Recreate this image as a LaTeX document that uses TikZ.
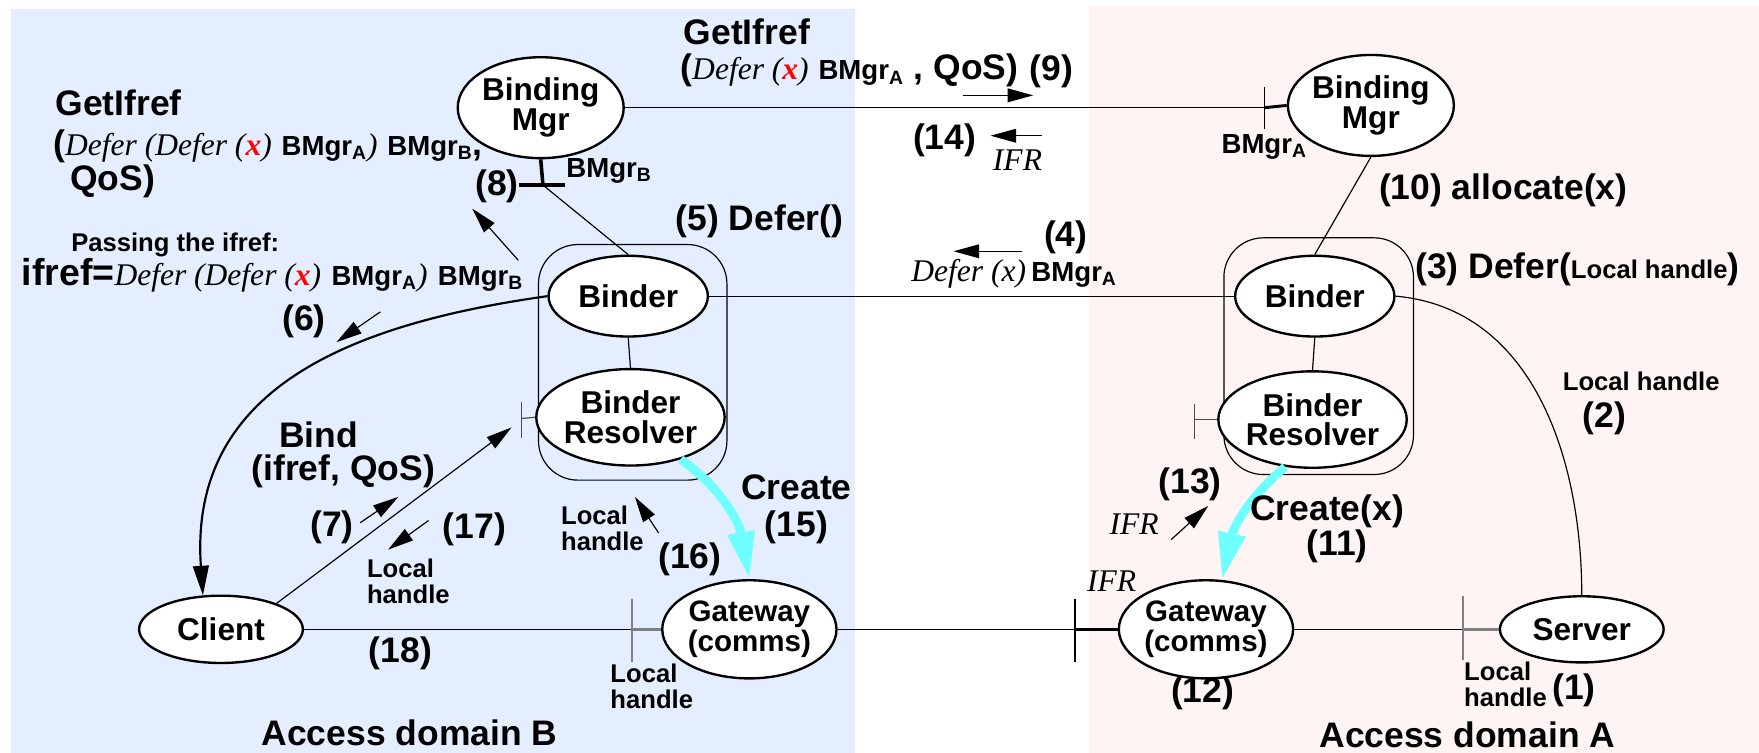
\documentclass[tikz,border=0pt]{standalone}
\usepackage{fontspec}
\setmainfont{Liberation Sans}
\newfontfamily\tms{Liberation Serif}
\usetikzlibrary{calc,shapes.geometric,arrows.meta}
\definecolor{domB}{HTML}{E4EEFF}
\definecolor{domA}{HTML}{FFF4F4}
\definecolor{crt}{HTML}{70FFFF}
\newcommand{\tm}[1]{{\tms\mdseries\itshape\fontsize{16}{16}\selectfont #1}}
\newcommand{\xr}{{\bfseries\color{red}x}}
\newcommand{\bmg}[1]{{\fontsize{14}{14}\selectfont BMgr\textsubscript{#1}}}
\tikzset{
  proc/.style={draw, ellipse, fill=white, line width=1.2pt, inner sep=0pt, align=center,
    font=\fontsize{16}{15}\selectfont\bfseries},
  big/.style={font=\fontsize{18}{18}\selectfont\bfseries, inner sep=0pt, align=center},
  small/.style={font=\fontsize{13}{13}\selectfont\bfseries, inner sep=0pt, align=left},
  msg/.style={-{Triangle[length=13pt,width=7pt]}, line width=0.6pt},
  stub/.style={line width=1.8pt},
  crtarrow/.style={crt, line width=4.5pt, -{Triangle[length=24pt,width=13pt]}}
}

\begin{document}
\begin{tikzpicture}[x=0.02cm, y=-0.02cm, line width=0.6pt]
			%%%%% START %%%%%
			\useasboundingbox (0,0) rectangle (1568,671);
			\fill[domB] (10,8) rectangle (762,671);
			\fill[domA] (971,5) rectangle (1568,671);
			
			\draw[rounded corners=20pt] (480,218) rectangle (648,428);
			\draw[rounded corners=20pt] (1091,212) rectangle (1260,423);
			
			\node[proc, minimum width=2.8cm, minimum height=1.8cm] (bmB) at (482,96) {Binding\\Mgr};
			\node[proc, minimum width=2.8cm, minimum height=1.8cm] (bmA) at (1222,94) {Binding\\Mgr};
			\node[proc, minimum width=2.84cm, minimum height=1.44cm] (bdB) at (560,264) {Binder};
			\node[proc, minimum width=2.84cm, minimum height=1.44cm] (bdA) at (1172,264) {Binder};
			\node[proc, minimum width=2.92cm, minimum height=1.72cm] (rsB) at (562,372) {Binder\\Resolver};
			\node[proc, minimum width=2.92cm, minimum height=1.72cm] (rsA) at (1170,374) {Binder\\Resolver};
			\node[proc, minimum width=2.92cm, minimum height=1.2cm] (cl) at (197,561) {Client};
			\node[proc, minimum width=3cm, minimum height=1.75cm, font=\fontsize{15}{13}\selectfont\bfseries] (gwB) at (668,561) {Gateway\\(comms)};
			\node[proc, minimum width=3cm, minimum height=1.75cm, font=\fontsize{15}{13}\selectfont\bfseries] (gwA) at (1075,561) {Gateway\\(comms)};
			\node[proc, minimum width=2.92cm, minimum height=1.18cm] (sv) at (1410,561) {Server};
			
			\coordinate (tbmB) at (484,165);
			\coordinate (tbmA) at (1127,96);
			\coordinate (trsB) at (465,373);
			\coordinate (trsA) at (1065,374);
			\coordinate (tgwB) at (563,561);
			\coordinate (tgwA) at (958,561);
			\coordinate (tsv) at (1304,561);
			\coordinate (bindIn) at (456,381);
			
			% interfaces
			\draw (bmB.east) -- (tbmA);
			\draw[line width=1.5pt] (tbmA) -- (bmA.west);
			\draw[line width=0.8pt] ($(tbmA)+(0,-18)$) -- ($(tbmA)+(0,19)$);
			\draw[stub] (bmB.south) -- (tbmB);
			\draw[stub] ($(tbmB)+(-21,0)$) -- ($(tbmB)+(20,0)$);
			\draw (tbmB) -- (bdB.north);
			\draw (bmA.south) -- (bdA.north);
			\draw (bdB.east) -- (bdA.west);
			\draw (bdB.south) -- (rsB.north);
			\draw (bdA.south) -- (rsA.north);
			\draw[black!70] (trsB) -- (rsB.west);
			\draw[black!70] ($(trsB)+(0,-15)$) -- ($(trsB)+(0,17)$);
			\draw[black!70] (trsA) -- (rsA.west);
			\draw[black!70] ($(trsA)+(0,-14)$) -- ($(trsA)+(0,17)$);
			\draw (cl.east) -- (tgwB);
			\draw[black!50, stub] (tgwB) -- (gwB.west);
			\draw[black!50, line width=1pt] ($(tgwB)+(0,-27)$) -- ($(tgwB)+(0,29)$);
			\draw (gwB.east) -- (tgwA);
			\draw[stub] (tgwA) -- (gwA.west);
			\draw[line width=1pt] ($(tgwA)+(0,-27)$) -- ($(tgwA)+(0,29)$);
			\draw (gwA.east) -- (tsv);
			\draw[black!50, stub] (tsv) -- (sv.west);
			\draw[black!50, line width=1pt] ($(tsv)+(0,-30)$) -- ($(tsv)+(0,27)$);
			
			\draw[line width=1.1pt, -{Triangle[length=15pt,width=8pt]}] (bdB.west) to[out=188, in=94, looseness=1.15] (cl.118);
			\draw (bdA.east) to[out=-5, in=90] (sv.north);
			\draw[msg] (cl.25) -- (bindIn);
			\draw[crtarrow] (rsB.-40) to[out=-35, in=100] (gwB.north);
			\draw[crtarrow] (rsA.-120) to[out=220, in=78] (gwA.72);
			
			% message arrows
			\draw[msg] (858,85) -- (921,85);
			\draw[msg] (929,121) -- (883,121);
			\draw[msg] (911,224) -- (850,224);
			\draw[msg] (462,232) -- (421,186);
			\draw[msg] (339,278) -- (300,305);
			\draw[msg] (321,466) -- (355,443);
			\draw[msg] (382,464) -- (346,490);
			\draw[msg] (587,475) -- (566,443);
			\draw[msg] (1044,481) -- (1077,451);
			
			% labels
			\node[big, anchor=west] (gi1) at (49,92) {GetIfref};
			\node[big, anchor=west] (gi2) at (47,130) {(\tm{Defer (Defer (\xr)} \bmg{A}\tm{)} \bmg{B},};
			\node[big, anchor=west] (gi3) at (62,162) {QoS)};
			\node[small, anchor=west] (pa1) at (63,218) {Passing the ifref:};
			\node[big, anchor=west] (pa2) at (19,245) {\fontsize{19}{19}\selectfont ifref=\tm{Defer (Defer (\xr)} \bmg{A}\tm{)} \bmg{B}};
			\node[big] (n8) at (443,166) {(8)};
			\node[small] (lbB) at (543,152) {\bmg{B}};
			\node[big, anchor=west] (gt1) at (609,28) {GetIfref};
			\node[big, anchor=west] (gt2) at (606,63) {(\tm{Defer (\xr)} \bmg{A} , QoS)};
			\node[big] (n9) at (937,64) {(9)};
			\node[big] (n14) at (842,125) {(14)};
			\node[font=\bfseries] (ifr14) at (907,143) {\tm{IFR}};
			\node[small] (lbA) at (1127,131) {\bmg{A}};
			\node[big] (n10) at (1340,170) {(10) allocate(x)};
			\node[big] (n5) at (677,197) {(5) Defer()};
			\node[big] (n4) at (950,212) {(4)};
			\node[font=\bfseries] (d4) at (904,244) {\tm{Defer (x)} \bmg{A}};
			\node[big, anchor=west] (n3) at (1261,240) {(3) Defer({\fontsize{13}{13}\selectfont Local handle})};
			\node[small] (lh2) at (1463,340) {Local handle};
			\node[big] (n2) at (1430,373) {(2)};
			\node[big] (n6) at (271,286) {(6)};
			\node[big] (bd1) at (284,388) {Bind};
			\node[big] (bd2) at (306,420) {(ifref, QoS)};
			\node[big] (n7) at (296,470) {(7)};
			\node[big] (n17) at (423,472) {(17)};
			\node[small] (lh17) at (364,518) {Local\\handle};
			\node[small] (lh16) at (537,471) {Local\\handle};
			\node[big] (n16) at (615,499) {(16)};
			\node[big] (cr15) at (710,434) {Create};
			\node[big] (n15) at (710,470) {(15)};
			\node[big] (n18) at (357,582) {(18)};
			\node[small] (lhgB) at (581,612) {Local\\handle};
			\node[big] (adB) at (365,653) {Access domain B};
			\node[big] (adA) at (1308,655) {Access domain A};
			\node[big] (n13) at (1061,432) {(13)};
			\node[font=\bfseries] (ifr13) at (1011,467) {\tm{IFR}};
			\node[big] (cr11) at (1183,456) {Create(x)};
			\node[big] (n11) at (1192,487) {(11)};
			\node[font=\bfseries] (ifr12) at (991,518) {\tm{IFR}};
			\node[big] (n12) at (1072,618) {(12)};
			\node[small] (lhsv) at (1342,610) {Local\\handle};
			\node[big] (n1) at (1403,615) {(1)};
			%%%%% END %%%%%
\end{tikzpicture}
\end{document}
